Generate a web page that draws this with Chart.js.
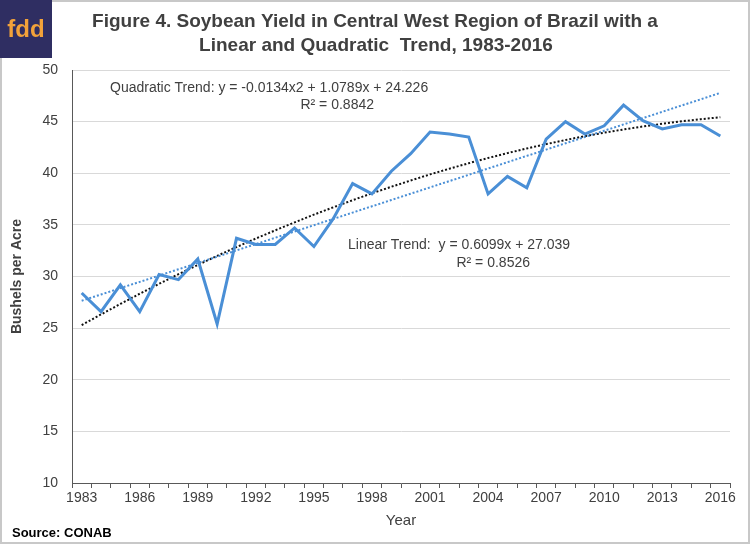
<!DOCTYPE html>
<html>
<head>
<meta charset="utf-8">
<script src="https://cdn.jsdelivr.net/npm/chart.js@4"></script>
<style>
  html, body { margin: 0; padding: 0; background: #fff; }
  #wrap { position: relative; width: 750px; height: 544px; }
  canvas { display: block; }
</style>
</head>
<body>
<div id="wrap"><canvas id="c" width="750" height="544"></canvas></div>
<script>
const years = ["1983","1984","1985","1986","1987","1988","1989","1990","1991","1992","1993","1994","1995","1996","1997","1998","1999","2000","2001","2002","2003","2004","2005","2006","2007","2008","2009","2010","2011","2012","2013","2014","2015","2016"];
const yieldValues = [28.4, 26.6, 29.2, 26.6, 30.2, 29.7, 31.7, 25.4, 33.7, 33.1, 33.1, 34.7, 32.9, 35.6, 39.0, 38.0, 40.2, 41.9, 44.0, 43.8, 43.5, 38.0, 39.7, 38.6, 43.3, 45.0, 43.8, 44.6, 46.6, 45.1, 44.3, 44.7, 44.7, 43.6];
const linearTrend = [27.65, 28.26, 28.87, 29.48, 30.09, 30.70, 31.31, 31.92, 32.53, 33.14, 33.75, 34.36, 34.97, 35.58, 36.19, 36.80, 37.41, 38.02, 38.63, 39.24, 39.85, 40.46, 41.07, 41.68, 42.29, 42.90, 43.51, 44.12, 44.73, 45.34, 45.95, 46.56, 47.17, 47.78];
const quadraticTrend = [25.29, 26.33, 27.34, 28.33, 29.29, 30.22, 31.12, 32.00, 32.85, 33.68, 34.47, 35.24, 35.99, 36.70, 37.39, 38.06, 38.69, 39.30, 39.89, 40.44, 40.97, 41.48, 41.95, 42.40, 42.82, 43.22, 43.59, 43.93, 44.24, 44.53, 44.79, 45.03, 45.24, 45.42];
const titleLines = ["Figure 4. Soybean Yield in Central West Region of Brazil with a", "Linear and Quadratic  Trend, 1983-2016"];
const quadLabel = ["Quadratic Trend: y = -0.0134x2 + 1.0789x + 24.226", "R\u00B2 = 0.8842"];
const linLabel = ["Linear Trend:  y = 0.6099x + 27.039", "R\u00B2 = 0.8526"];

const FONT = "'Liberation Sans', Arial, sans-serif";
const TXT = '#404040';

const decor = {
  id: 'decor',
  beforeDraw(chart) {
    const ctx = chart.ctx;
    ctx.save();
    ctx.fillStyle = '#fff';
    ctx.fillRect(0, 0, chart.width, chart.height);
    ctx.restore();
  },
  afterDraw(chart) {
    const ctx = chart.ctx;
    ctx.save();
    ctx.strokeStyle = '#c8c8c8';
    ctx.lineWidth = 2;
    ctx.strokeRect(1, 1, chart.width - 2, chart.height - 2);
    ctx.fillStyle = '#2f2e62';
    ctx.fillRect(0, 0, 52, 58);
    ctx.fillStyle = '#f2a23a';
    ctx.font = "bold 24px " + FONT;
    ctx.textAlign = 'center';
    ctx.textBaseline = 'middle';
    ctx.fillText('fdd', 26, 30);
    ctx.fillStyle = TXT;
    ctx.font = "bold 19px " + FONT;
    ctx.fillText(titleLines[0], 375, 22);
    ctx.fillText(titleLines[1], 376, 46);
    ctx.font = "14px " + FONT;
    ctx.textAlign = 'left';
    ctx.fillText(quadLabel[0], 110, 88);
    ctx.textAlign = 'right';
    ctx.fillText(quadLabel[1], 374, 105);
    ctx.textAlign = 'left';
    ctx.fillText(linLabel[0], 348, 245);
    ctx.textAlign = 'right';
    ctx.fillText(linLabel[1], 530, 263);
    ctx.font = "bold 13px " + FONT;
    ctx.textAlign = 'left';
    ctx.fillStyle = '#000';
    ctx.fillText('Source: CONAB', 12, 533);
    ctx.restore();
  }
};

new Chart(document.getElementById('c'), {
  type: 'line',
  data: {
    labels: years,
    datasets: [
      { label: 'Yield', data: yieldValues, borderColor: '#4a8fd6', borderWidth: 3, pointRadius: 0, tension: 0, order: 1 },
      { label: 'Linear', data: linearTrend, borderColor: '#4a8fd6', borderWidth: 2, borderDash: [2, 2], pointRadius: 0, order: 2 },
      { label: 'Quadratic', data: quadraticTrend, borderColor: '#111', borderWidth: 2, borderDash: [2, 2], pointRadius: 0, order: 3 }
    ]
  },
  options: {
    responsive: false,
    animation: false,
    layout: { padding: { top: 70, right: 20, bottom: 14, left: 0 } },
    plugins: { legend: { display: false }, tooltip: { enabled: false }, title: { display: false } },
    scales: {
      x: {
        type: 'category',
        offset: true,
        grid: { display: true, offset: true, drawOnChartArea: false, drawTicks: true, tickLength: 5, color: '#595959' },
        border: { color: '#595959', width: 1 },
        ticks: {
          autoSkip: false, maxRotation: 0, minRotation: 0, padding: 2,
          color: TXT, font: { family: FONT, size: 14 },
          callback: function(v, i) { return i % 3 === 0 ? this.getLabelForValue(v) : ''; }
        },
        title: { display: true, text: 'Year', color: TXT, font: { family: FONT, size: 15 }, padding: { top: 2, bottom: 0 } },
        afterFit(s) { s.height = 47; }
      },
      y: {
        min: 10, max: 50,
        ticks: { stepSize: 5, color: TXT, font: { family: FONT, size: 14 }, padding: 14 },
        grid: { color: '#d9d9d9', lineWidth: 1, drawTicks: false },
        border: { color: '#595959', width: 1 },
        title: { display: true, text: 'Bushels per Acre', color: TXT, font: { family: FONT, size: 14, weight: 'bold' }, padding: { top: 9, bottom: 0 } },
        afterFit(s) { s.width = 72; }
      }
    }
  },
  plugins: [decor]
});
</script>
</body>
</html>
